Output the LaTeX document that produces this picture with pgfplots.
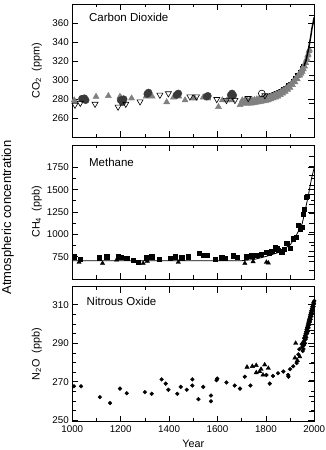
\documentclass[border=0pt]{standalone}
\usepackage{fontspec}
\setmainfont{Liberation Sans}
\usepackage{pgfplots}
\pgfplotsset{compat=1.18}
\definecolor{dkgray}{RGB}{58,58,58}
\definecolor{mdgray}{RGB}{128,128,128}
\pgfplotsset{
  panel/.style={scale only axis, width=242pt, xmin=1000, xmax=2000,
    xtick={1000,1200,...,2000}, minor x tick num=1,
    tick align=inside, major tick length=6pt, minor tick length=3.5pt,
    axis line style={line width=0.8pt}, tick style={black, line width=0.7pt},
    ticklabel style={font=\fontsize{9.8}{10}\selectfont},
    /pgf/number format/assume math mode=true, /pgf/number format/1000 sep={},
    label style={font=\fontsize{10.8}{12}\selectfont},
    ylabel style={at={(axis description cs:-0.147,0.5)}, anchor=center},
    clip mode=individual, anchor=south west},
  rticks/.style={scale only axis, width=242pt, xmin=0, xmax=1, ymin=0,
    axis x line=none, axis y line*=right, yticklabels={}, tick align=inside,
    major tick length=5pt, axis line style={line width=0.8pt},
    tick style={black, line width=0.7pt}, anchor=south west}
}
\tikzset{ttl/.style={anchor=west, font=\fontsize{11.5}{12}\selectfont}}
\begin{document}
\begin{tikzpicture}
\useasboundingbox (0,0) rectangle (326pt,450pt);
\node[rotate=90, anchor=base, font=\fontsize{13}{14}\selectfont] at (11pt,232.5pt) {Atmospheric concentration};

% ---------------- CO2 ----------------
\begin{axis}[panel, at={(72.3pt,312.7pt)}, height=133.3pt, ymin=240, ymax=380,
  ytick={260,280,...,360}, xticklabels={}, ylabel={CO\textsubscript{2}\ \ (ppm)}]
\addplot[only marks, mark=square*, mark size=1.8pt, black] coordinates {
(1800,283) (1810,283) (1820,284) (1830,285) (1840,286.5) (1850,287.5) (1860,289)
(1870,290.5) (1880,292) (1890,294.5) (1900,296.5) (1910,299) (1920,302) (1930,305.5)
(1940,309) (1950,313) (1955,315)};
\addplot[only marks, mark=triangle*, mark size=3.5pt, mdgray] coordinates {
(1008,279) (1011,277.5) (1098,282.7) (1149,283.5) (1197,282.7) (1202,281) (1245,281)
(1305,283) (1320,284) (1330,283) (1390,277) (1418,282) (1440,283) (1466,279) (1500,281)
(1506,281) (1541,282) (1560,281) (1604,272) (1620,279) (1640,279) (1660,279) (1693,274)
(1700,275.5) (1702.5,279) (1710,275.5) (1712.5,279) (1720,275.5) (1722.5,279)
(1730,275.5) (1732.5,279) (1740,275.5) (1742.5,279) (1750,276) (1752.5,279.5)
(1760,276.5) (1762.5,280) (1770,277) (1772.5,280.5) (1780,277.5) (1782.5,281)
(1790,278) (1792.5,281.5) (1800,278.5) (1802.5,282) (1810,279) (1812.5,282.5)
(1820,280) (1822.5,283.5) (1830,281) (1832.5,284.5) (1840,282) (1842.5,285.5)
(1850,283) (1852.5,286.5) (1860,284.5) (1862.5,288) (1870,286) (1872.5,289.5)
(1880,288) (1882.5,291.5) (1890,290) (1892.5,293.5) (1900,292) (1902.5,295.5)
(1910,295) (1912.5,298.5) (1920,298) (1922.5,301.5) (1930,301) (1932.5,304.5)
(1940,305) (1942.5,308.5) (1945,307) (1947.5,310.5) (1950,309) (1952.5,312.5)
(1955,311.5) (1957.5,315) (1960,314.5) (1962.5,318) (1965,318) (1967.5,321.5)
(1970,322.5) (1972.5,326) (1975,327) (1977.5,330.5) (1980,332)};
\addplot[only marks, mark=*, mark size=3.6pt, dkgray] coordinates {
(1040,280.5) (1050,281) (1055,279) (1200,279) (1207,277) (1212,280) (1310,285.5)
(1315,287) (1431,284.5) (1438,286) (1555,282.7) (1560,283.5) (1655,284.5) (1660,286) (1665,284)};
\addplot[only marks, mark=triangle, mark size=3.5pt, black,
  mark options={fill=white, rotate=180, line width=0.6pt}] coordinates {
(1011,274) (1033,276) (1094,275) (1189,272) (1221,275) (1280,277.5) (1362,284.5)
(1397,286) (1486,282.7) (1513,282.7) (1597,280) (1637,279) (1672,279) (1727,281) (1796,284)};
\addplot[only marks, mark=o, mark size=3.4pt, black, mark options={fill=white, line width=0.6pt}]
  coordinates {(1783,286)};
\addplot[black, line width=1.5pt] coordinates {
(1958,315) (1962,318) (1966,321) (1970,325.5) (1974,330) (1978,335.5) (1982,341)
(1986,347) (1990,354) (1994,359) (1998,364) (2000,366)};
\node[ttl] at (rel axis cs:0.055,0.9) {Carbon Dioxide};
\end{axis}
\begin{axis}[rticks, at={(72.3pt,312.7pt)}, height=133.3pt, ymax=133.3,
  ytick={34,61.6,89.8,122.3}]
\addplot[draw=none] coordinates {(0,0)};
\end{axis}

% ---------------- CH4 ----------------
\begin{axis}[panel, at={(72.3pt,171pt)}, height=134pt, ymin=500, ymax=2000,
  ytick={750,1000,...,1750}, minor y tick num=1, xticklabels={},
  ylabel={CH\textsubscript{4}\ \ (ppb)}]
\addplot[black, line width=0.8pt] coordinates {
(1000,705) (1700,705) (1750,718) (1800,752) (1850,795) (1900,880) (1925,985)
(1950,1120) (1960,1240) (1975,1430) (1989,1632) (2000,1750)};
\addplot[only marks, mark=square*, mark size=2.1pt, black] coordinates {
(1007,750) (1032,724) (1112,739) (1142,750) (1190,750) (1200,740) (1225,732)
(1252,713) (1272,688) (1304,739) (1328,750) (1360,724) (1404,732) (1424,750)
(1452,739) (1479,750) (1525,787) (1541,768) (1555,768) (1590,724) (1617,739)
(1630,735) (1665,761) (1680,745) (1720,750) (1741,761) (1762,768) (1782,776)
(1803,798) (1815,790) (1824,812) (1837,860) (1845,840) (1851,823) (1865,805)
(1875,830) (1886,897) (1900,849) (1913,952) (1924,970) (1934,1099) (1941,1062)
(1948,1081) (1955,1228) (1957,1283) (1966,1412) (1971,1423)};
\addplot[only marks, mark=triangle*, mark size=2.5pt, black] coordinates {
(1028,688) (1125,676) (1183,713) (1293,676) (1310,700) (1438,688) (1713,676)
(1747,695) (1802,688) (1810,680)};
\node[ttl] at (rel axis cs:0.055,0.87) {Methane};
\end{axis}
\begin{axis}[rticks, at={(72.3pt,171pt)}, height=134pt, ymax=134,
  ytick={8.3,17.8,27.3,36.8,46.3,55.8,65.3,74.8,84.3,93.8,103.3,112.8,122.3}]
\addplot[draw=none] coordinates {(0,0)};
\end{axis}

% ---------------- N2O ----------------
\begin{axis}[panel, at={(72.3pt,28.3pt)}, height=135pt, ymin=249.2, ymax=319.4,
  ytick={250,270,290,310}, minor y tick num=3,
  ylabel={N\textsubscript{2}O\ \ (ppb)}, xlabel={Year},
  xlabel style={at={(axis description cs:0.5,-0.163)}, anchor=center}]
\addplot[only marks, mark=*, mark size=1.9pt, black] coordinates {
(1007,267.6) (1036,267.6) (1114,262) (1156,258.9) (1197,266.4) (1225,264) (1300,264.6)
(1328,263.7) (1369,271.2) (1386,269) (1397,265.8) (1434,263.7) (1448,267.3) (1473,265.8)
(1496,268) (1496,271.2) (1521,260.9) (1541,267.3) (1573,262.8) (1573,259.8) (1596,270.8)
(1599,271.6) (1637,269.6) (1671,268) (1693,266.4) (1713,272.6) (1736,268) (1802,273.5)
(1816,269) (1829,273) (1850,274.4) (1872,275.3) (1892,273.5) (1893,272.6) (1900,276.5)
(1913,278) (1927,279.7) (1934,284.2) (1938,286.9) (1948,289.5) (1952,286)
(1950,288) (1953,290) (1956,291) (1958,292.5) (1960,293) (1962,294) (1964,295)
(1966,296) (1968,297) (1970,298) (1972,299) (1974,300) (1976,301) (1978,302)
(1980,303) (1982,304) (1984,305) (1986,306) (1988,307) (1990,308) (1992,309)
(1994,310) (1996,311) (1998,311.5) (2000,312)
(1955,287) (1958,289) (1961,290) (1964,292) (1967,293) (1970,295) (1973,296)
(1976,298) (1979,299.5) (1982,301) (1985,302.5) (1988,304) (1991,305.5) (1994,307)
(1997,309) (1999,310.5)};
\addplot[only marks, mark=triangle*, mark size=2.5pt, black] coordinates {
(1722,277.6) (1744,278) (1760,274.7) (1774,275.3) (1788,273.5) (1795,278.8) (1810,277)
(1920,282.4) (1923,290) (1930,281) (1940,283) (1760,278.5) (1780,276.5)};
\node[ttl] at (rel axis cs:0.045,0.89) {Nitrous Oxide};
\end{axis}
\begin{axis}[rticks, at={(72.3pt,28.3pt)}, height=135pt, ymax=135,
  ytick={10,25,41.7,58.4,75,91.7,108.4,125.7}]
\addplot[draw=none] coordinates {(0,0)};
\end{axis}
\end{tikzpicture}
\end{document}
